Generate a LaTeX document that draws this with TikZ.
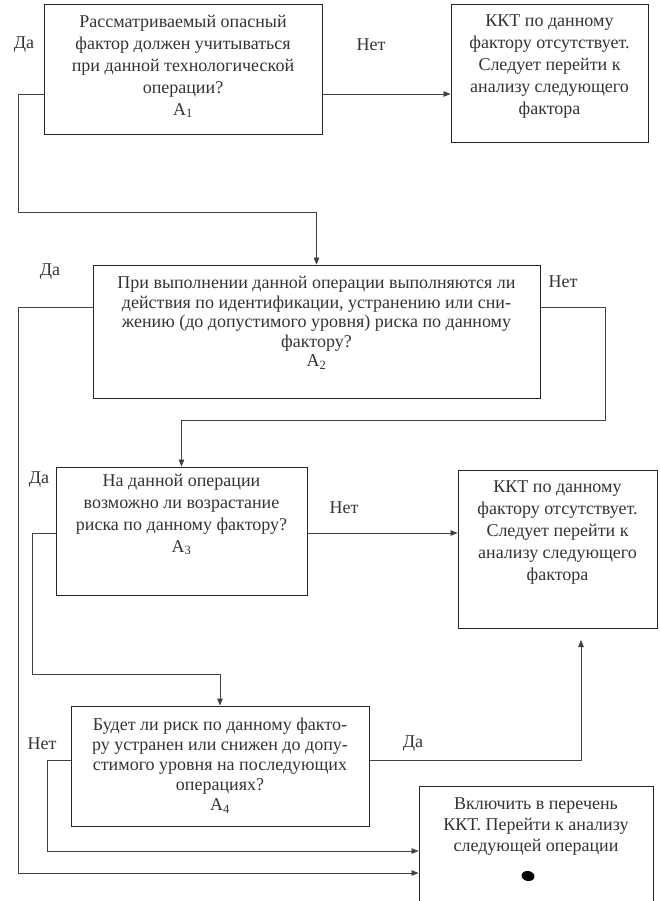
\documentclass[tikz,border=0pt]{standalone}
\usepackage{fontspec}
\setmainfont{Liberation Serif}
\usetikzlibrary{arrows.meta}
\begin{document}
\begin{tikzpicture}[x=1pt,y=-1pt,
  box/.style={draw=black!85, line width=0.9pt, align=center, inner sep=2pt,
    text=black!80, font=\fontsize{18}{22}\selectfont},
  boxtext/.style={align=center, inner sep=0pt, text=black!80, font=\fontsize{18}{21}\selectfont},
  lbl/.style={inner sep=0pt, text=black!80, font=\fontsize{18}{20}\selectfont},
  conn/.style={draw=black!75, line width=0.8pt},
  arr/.style={conn, -{Triangle[length=7pt,width=5.5pt]}}]
\useasboundingbox (0,0) rectangle (659,901);

% boxes
\node[box, minimum width=278pt, minimum height=130pt] (a1) at (183,69)
  {Рассматриваемый опасный\\фактор должен учитываться\\при данной технологической\\операции?\\А\textsubscript{1}\\[-14pt]};
\node[box, minimum width=197pt, minimum height=138pt] (k1) at (549.5,73)
  {ККТ по данному\\фактору отсутствует.\\Следует перейти к\\анализу следующего\\фактора\\[-6pt]};
\node[box, minimum width=447pt, minimum height=133pt, font=\fontsize{18}{19.5}\selectfont] (a2) at (316.5,331.5)
  {При выполнении данной операции выполняются ли\\действия по идентификации, устранению или сни-\\жению (до допустимого уровня) риска по данному\\фактору?\\А\textsubscript{2}\\[0pt]};
\node[box, minimum width=251pt, minimum height=128pt] (a3) at (181.5,531)
  {На данной операции\\возможно ли возрастание\\риска по данному фактору?\\А\textsubscript{3}\\[14pt]};
\node[box, minimum width=199pt, minimum height=158pt] (k2) at (557.5,549)
  {ККТ по данному\\фактору отсутствует.\\Следует перейти к\\анализу следующего\\фактора\\[14pt]};
\node[box, minimum width=298pt, minimum height=120pt, font=\fontsize{18}{20}\selectfont] (a4) at (220,766)
  {Будет ли риск по данному факто-\\ру устранен или снижен до допу-\\стимого уровня на последующих\\операциях?\\А\textsubscript{4}};
\node[box, minimum width=234pt, minimum height=115pt] (v) at (536,843.5) {};
\node[boxtext] (vt) at (536,827) {Включить в перечень\\ККТ. Перейти к анализу\\следующей операции};
\fill[black] (528,876) ellipse [x radius=6.5pt, y radius=5pt, rotate=-10];

% labels
\node[lbl] (l1) at (24,45) {Да};
\node[lbl] (l2) at (371,45) {Нет};
\node[lbl] (l3) at (50,272) {Да};
\node[lbl] (l4) at (563,282) {Нет};
\node[lbl] (l5) at (39,480) {Да};
\node[lbl] (l6) at (344,508) {Нет};
\node[lbl] (l7) at (42,744) {Нет};
\node[lbl] (l8) at (413,744) {Да};

% level and bend coordinates
\coordinate (y1) at (0,94);
\coordinate (c1) at (18,212);
\coordinate (y2) at (0,307);
\coordinate (c2) at (18,873);
\coordinate (c3) at (605,420);
\coordinate (y3) at (0,533);
\coordinate (c4) at (32,674);
\coordinate (y4) at (0,760);
\coordinate (c5) at (581,640);
\coordinate (c6) at (47,851);

% connectors
\draw[arr] (a1.east |- y1) -- (k1.west |- y1);
\draw[arr] (a1.west |- y1) -| (c1) -| (a2.north);
\draw[arr] (a2.west |- y2) -| (c2) -- (v.west |- c2);
\draw[arr] (a2.east |- y2) -| (c3) -| (a3.north);
\draw[arr] (a3.east |- y3) -- (k2.west |- y3);
\draw[arr] (a3.west |- y3) -| (c4) -| (a4.north);
\draw[arr] (a4.east |- y4) -| (c5);
\draw[arr] (a4.west |- y4) -| (c6) -- (v.west |- c6);
\end{tikzpicture}
\end{document}
